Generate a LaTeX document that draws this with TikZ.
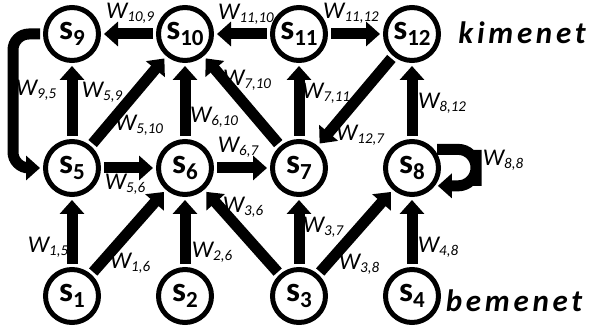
\documentclass[tikz,border=0pt]{standalone}
\usepackage{fontspec}
\setmainfont{Carlito}
\usetikzlibrary{arrows.meta}
\newcommand\slab[1]{\fontsize{35}{35}\selectfont\bfseries s\raisebox{-6pt}{\fontsize{23}{23}\selectfont #1}}
\newcommand\wlab[1]{\fontsize{24}{24}\selectfont\itshape W\raisebox{-3pt}{\fontsize{15}{15}\selectfont #1}}
\begin{document}
\begin{tikzpicture}[x=1pt,y=-1pt,
  st/.style={circle,draw,line width=5pt,minimum size=53pt,inner sep=0pt},
  arr/.style={line width=11pt,-{Triangle[length=14pt,width=24pt]},shorten <=3pt,shorten >=3pt},
  wl/.style={inner sep=0pt}]
\useasboundingbox (0,0) rectangle (590,328);
% nodes
\node[st] (s9)  at (72,34)   {\slab{9}};
\node[st] (s10) at (185,34)  {\slab{10}};
\node[st] (s11) at (299,34)  {\slab{11}};
\node[st] (s12) at (412,34)  {\slab{12}};
\node[st] (s5)  at (72,168)  {\slab{5}};
\node[st] (s6)  at (185,168) {\slab{6}};
\node[st] (s7)  at (299,168) {\slab{7}};
\node[st] (s8)  at (412,168) {\slab{8}};
\node[st] (s1)  at (72,296)  {\slab{1}};
\node[st] (s2)  at (185,296) {\slab{2}};
\node[st] (s3)  at (299,296) {\slab{3}};
\node[st] (s4)  at (412,296) {\slab{4}};
\node (kim) at (522,33) {\fontsize{31}{31}\selectfont\bfseries\itshape\addfontfeature{LetterSpace=12}kimenet};
\node (bem) at (514,301) {\fontsize{31}{31}\selectfont\bfseries\itshape\addfontfeature{LetterSpace=12}bemenet};
\coordinate (c5) at (13,168);
\coordinate (l8) at (476,168);
% connectors
\draw[arr] (s10) -- (s9);
\draw[arr] (s11) -- (s10);
\draw[arr] (s11) -- (s12);
\draw[arr,rounded corners=16pt] (s9.west) -| (c5) -- (s5.west);
\draw[arr] (s5) -- (s9);
\draw[arr] (s5) -- (s10);
\draw[arr] (s6) -- (s10);
\draw[arr] (s7) -- (s10);
\draw[arr] (s7) -- (s11);
\draw[arr] (s12) -- (s7);
\draw[arr] (s8) -- (s12);
\draw[arr,rounded corners=18pt] (s8.40) -| (l8) |- (s8.-38);
\draw[arr] (s5) -- (s6);
\draw[arr] (s6) -- (s7);
\draw[arr] (s1) -- (s5);
\draw[arr] (s1) -- (s6);
\draw[arr] (s2) -- (s6);
\draw[arr] (s3) -- (s6);
\draw[arr] (s3) -- (s7);
\draw[arr] (s3) -- (s8);
\draw[arr] (s4) -- (s8);
% labels
\node[wl] (w109) at (130,13) {\wlab{10,9}};
\node[wl] (w1110) at (246,14) {\wlab{11,10}};
\node[wl] (w1112) at (351,13) {\wlab{11,12}};
\node[wl] (w95) at (36,90) {\wlab{9,5}};
\node[wl] (w59) at (102,92) {\wlab{5,9}};
\node[wl] (w510) at (139,125) {\wlab{5,10}};
\node[wl] (w610) at (214,117) {\wlab{6,10}};
\node[wl] (w710) at (247,80) {\wlab{7,10}};
\node[wl] (w711) at (326,93) {\wlab{7,11}};
\node[wl] (w127) at (360,135) {\wlab{12,7}};
\node[wl] (w812) at (442,103) {\wlab{8,12}};
\node[wl] (w88) at (503,160) {\wlab{8,8}};
\node[wl] (w56) at (125,184) {\wlab{5,6}};
\node[wl] (w67) at (238,147) {\wlab{6,7}};
\node[wl] (w15) at (48,247) {\wlab{1,5}};
\node[wl] (w16) at (130,263) {\wlab{1,6}};
\node[wl] (w26) at (212,252) {\wlab{2,6}};
\node[wl] (w36) at (243,207) {\wlab{3,6}};
\node[wl] (w37) at (323,227) {\wlab{3,7}};
\node[wl] (w38) at (359,264) {\wlab{3,8}};
\node[wl] (w48) at (438,247) {\wlab{4,8}};
\end{tikzpicture}
\end{document}
